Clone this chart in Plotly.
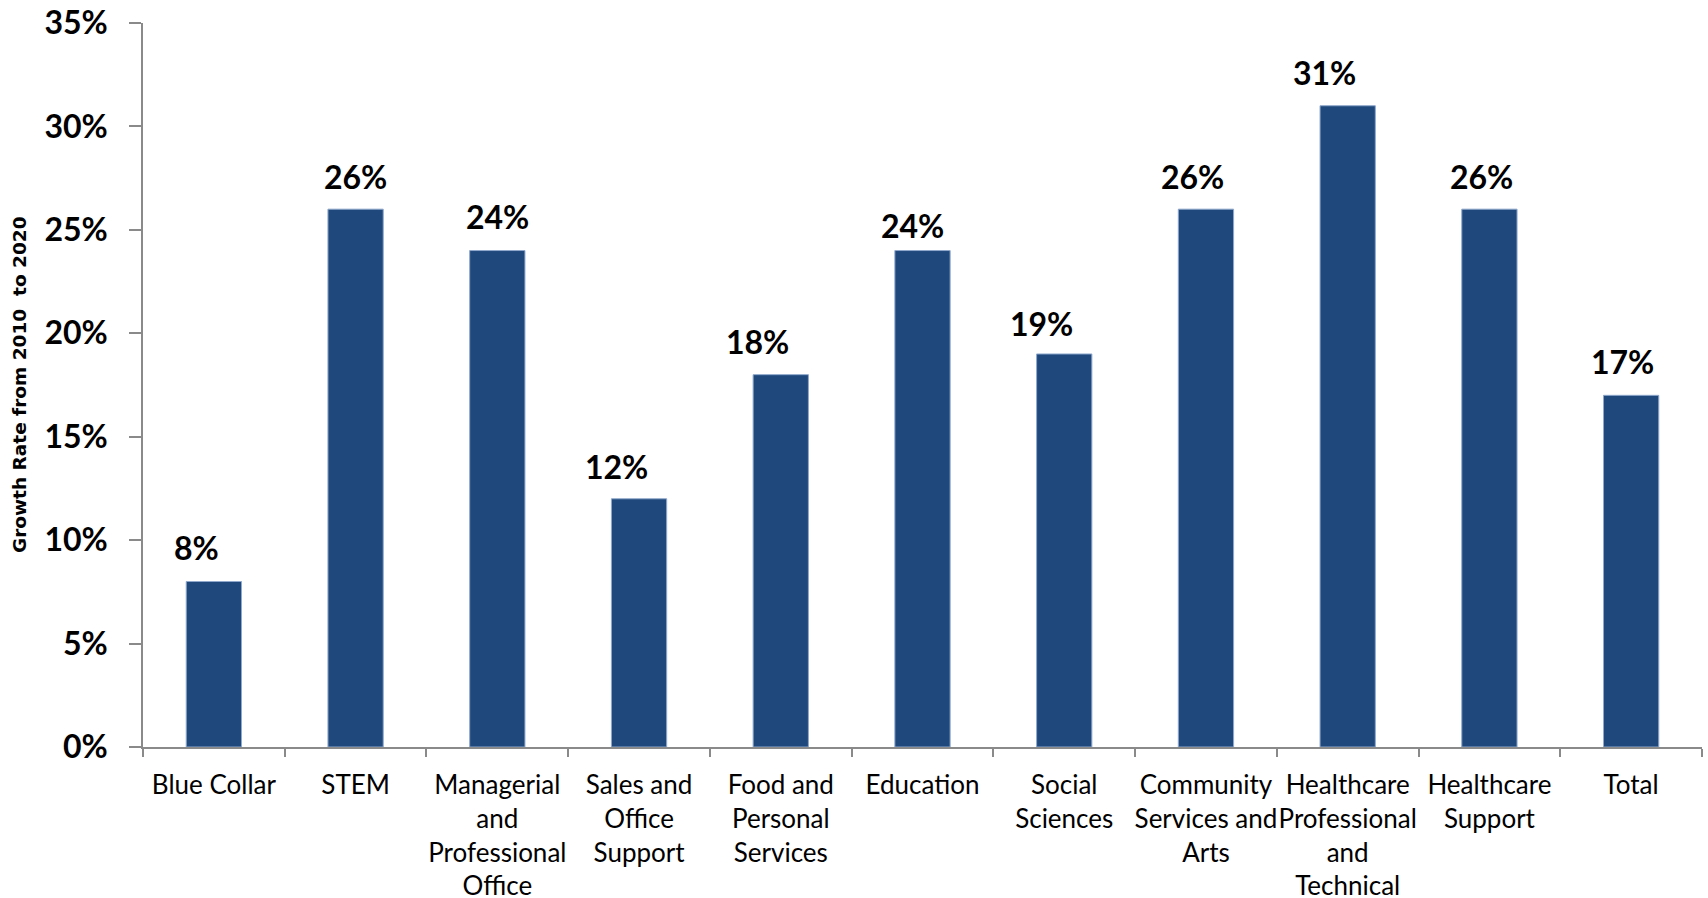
import plotly.graph_objects as go

# Occupation groups and projected employment growth, 2010-2020
categories = [
    "Blue Collar",
    "STEM",
    "Managerial<br>and<br>Professional<br>Office",
    "Sales and<br>Office<br>Support",
    "Food and<br>Personal<br>Services",
    "Education",
    "Social<br>Sciences",
    "Community<br>Services and<br>Arts",
    "Healthcare<br>Professional<br>and<br>Technical",
    "Healthcare<br>Support",
    "Total",
]
growth = [0.08, 0.26, 0.24, 0.12, 0.18, 0.24, 0.19, 0.26, 0.31, 0.26, 0.17]

# Hand-placed value label nudges (pixels) for the labels above the bars
label_dx = [-17, 0, 0, -23, -23, -10, -23, -13, -23, -8, -9]
label_dy = [34, 33, 34, 32, 33, 25, 30, 33, 33, 33, 34]

BAR_COLOR = "#1F497D"
AXIS_COLOR = "#8A8A8A"

fig = go.Figure()
fig.add_trace(
    go.Bar(
        x=categories,
        y=growth,
        marker=dict(color=BAR_COLOR, line=dict(color="#8FA8CC", width=1)),
        hoverinfo="skip",
    )
)

for i, (cat, v) in enumerate(zip(categories, growth)):
    fig.add_annotation(
        x=cat, y=v, xref="x", yref="y",
        text=f"{round(v * 100)}%",
        showarrow=False,
        xanchor="center", yanchor="middle",
        xshift=label_dx[i], yshift=label_dy[i],
        font=dict(family="Lato", size=32, color="black", weight="bold"),
    )

# Rotated axis title
fig.add_annotation(
    x=0, y=0.5, xref="paper", yref="paper",
    text="Growth Rate from 2010\u00a0 to 2020",
    textangle=-90, showarrow=False,
    xanchor="center", yanchor="middle",
    xshift=-124,
    font=dict(family="DejaVu Sans", size=18.5, color="black", weight="bold"),
)

fig.update_layout(
    width=1708, height=898,
    margin=dict(l=143, r=6, t=23, b=151),
    paper_bgcolor="white", plot_bgcolor="white",
    bargap=0.61,
    showlegend=False,
    xaxis=dict(
        type="category",
        range=[-0.5, len(categories) - 0.5],
        tickson="boundaries",
        tickangle=0,
        ticks="outside", ticklen=8, tickwidth=1.5, tickcolor=AXIS_COLOR,
        showline=True, linecolor=AXIS_COLOR, linewidth=1.5,
        showgrid=False, zeroline=False,
        tickfont=dict(family="Lato", size=26, color="black"),
        ticklabelstandoff=14,
        automargin=False,
    ),
    yaxis=dict(
        range=[0, 0.35],
        tick0=0, dtick=0.05,
        tickformat=".0%",
        ticks="outside", ticklen=12, tickwidth=1.5, tickcolor=AXIS_COLOR,
        showline=True, linecolor=AXIS_COLOR, linewidth=1.5,
        showgrid=False, zeroline=False,
        tickfont=dict(family="Lato", size=32, color="black", weight="bold"),
        ticklabelstandoff=15,
        automargin=False,
    ),
)

fig.write_html("out.html")
